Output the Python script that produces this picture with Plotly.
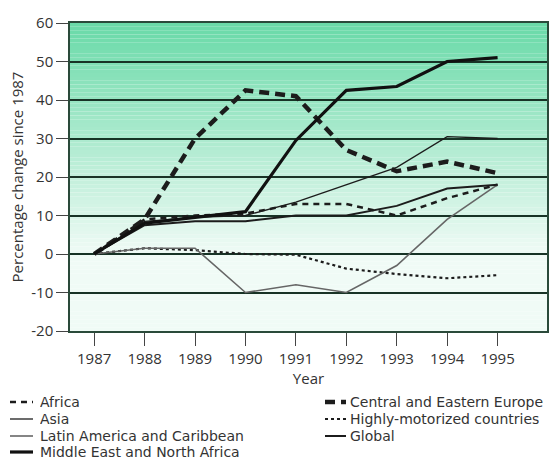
import plotly.graph_objects as go

years = [1987, 1988, 1989, 1990, 1991, 1992, 1993, 1994, 1995]
africa = [0, 9, 10, 10.5, 13, 13, 10, 14.5, 18]
cee = [0, 9, 30, 42.5, 41, 27, 21.5, 24, 21]
asia = [0, 8.5, 9.5, 10, 13.5, 18, 22.5, 30.5, 30]
highly = [0, 1.5, 1, 0, -0.2, -3.8, -5.2, -6.3, -5.5]
latam = [0, 1.5, 1.5, -10, -8, -10, -3, 9, 18]
global_ = [0, 7.5, 8.5, 8.5, 10, 10, 12.5, 17, 18]
mena = [0, 8, 9.5, 11, 29.5, 42.5, 43.5, 50, 51]

yticks = [-20, -10, 0, 10, 20, 30, 40, 50, 60]

fig = go.Figure()

series = [
    ("Africa", africa, dict(color="#1c1c1c", width=2.5, dash="6px,5px")),
    ("Central and Eastern Europe", cee, dict(color="#1c1c1c", width=4.5, dash="10px,6px")),
    ("Asia", asia, dict(color="#1c1c1c", width=1.3)),
    ("Highly-motorized countries", highly, dict(color="#1c1c1c", width=2.2, dash="3px,3px")),
    ("Latin America and Caribbean", latam, dict(color="#666666", width=1.6)),
    ("Global", global_, dict(color="#1c1c1c", width=2)),
    ("Middle East and North Africa", mena, dict(color="#111111", width=3.2)),
]
for name, vals, line in series:
    fig.add_trace(go.Scatter(x=years, y=vals, name=name, mode="lines", line=line,
                             showlegend=False, hoverinfo="skip"))

# gradient background
shapes = []
n = 80
top = (105, 218, 168)
mid = (240, 251, 246)
for i in range(n):
    y0 = 60 - i * 80 / n
    y1 = 60 - (i + 1) * 80 / n
    t = min(1.0, (i + 0.5) / (n * 0.75))
    c = tuple(int(top[k] + (mid[k] - top[k]) * t) for k in range(3))
    shapes.append(dict(type="rect", xref="paper", yref="y", x0=0, x1=1, y0=y1, y1=y0,
                       fillcolor="rgb(%d,%d,%d)" % c, line=dict(width=0), layer="below"))

# manual two-column legend
L, T, W, H = 70, 23, 477, 308
def px(x):
    return (x - L) / W
def py(y):
    return (T + H - y) / H

rows = [402, 419, 436, 452]
slots = [(0, 0), (1, 0), (0, 1), (1, 1), (0, 2), (1, 2), (0, 3)]
cols = [(10, 33, 39), (325, 346, 349)]
annotations = []
for (name, vals, line), (ci, ri) in zip(series, slots):
    x0, x1, xt = cols[ci]
    yy = rows[ri]
    shapes.append(dict(type="line", xref="paper", yref="paper",
                       x0=px(x0), x1=px(x1), y0=py(yy), y1=py(yy), line=line))
    annotations.append(dict(text=name, xref="paper", yref="paper", x=px(xt), y=py(yy),
                            xanchor="left", yanchor="middle", showarrow=False,
                            height=16, valign="middle", borderpad=0,
                            font=dict(family="DejaVu Sans", size=14, color="#333333")))

fig.update_layout(
    width=549, height=470,
    margin=dict(l=L, r=549 - L - W, t=T, b=470 - T - H),
    paper_bgcolor="white",
    plot_bgcolor="white",
    shapes=shapes,
    annotations=annotations,
    font=dict(family="Open Sans", size=15, color="#333333"),
    showlegend=False,
    xaxis=dict(range=[1986.52, 1995.98], tickmode="array", tickvals=years,
               ticks="outside", ticklen=13, tickcolor="#444", tickwidth=1,
               showgrid=False, zeroline=False, showline=True, linecolor="#2a4a3a",
               linewidth=1.5, mirror=True, automargin=False,
               title=dict(text="Year", standoff=4, font=dict(size=15))),
    yaxis=dict(range=[-20, 60], tickmode="array", tickvals=yticks,
               ticktext=[str(v) for v in yticks],
               ticks="outside", ticklen=12, tickcolor="#444", tickwidth=1,
               showgrid=True, gridcolor="#183326", gridwidth=1.8, zeroline=False,
               showline=True, linecolor="#2a4a3a", linewidth=1.5, mirror=True,
               automargin=False,
               title=dict(text="Percentage change since 1987", standoff=4, font=dict(size=15))),
)

fig.write_html("out.html", config={"displayModeBar": False},
               post_script="document.body.style.margin='0';")
